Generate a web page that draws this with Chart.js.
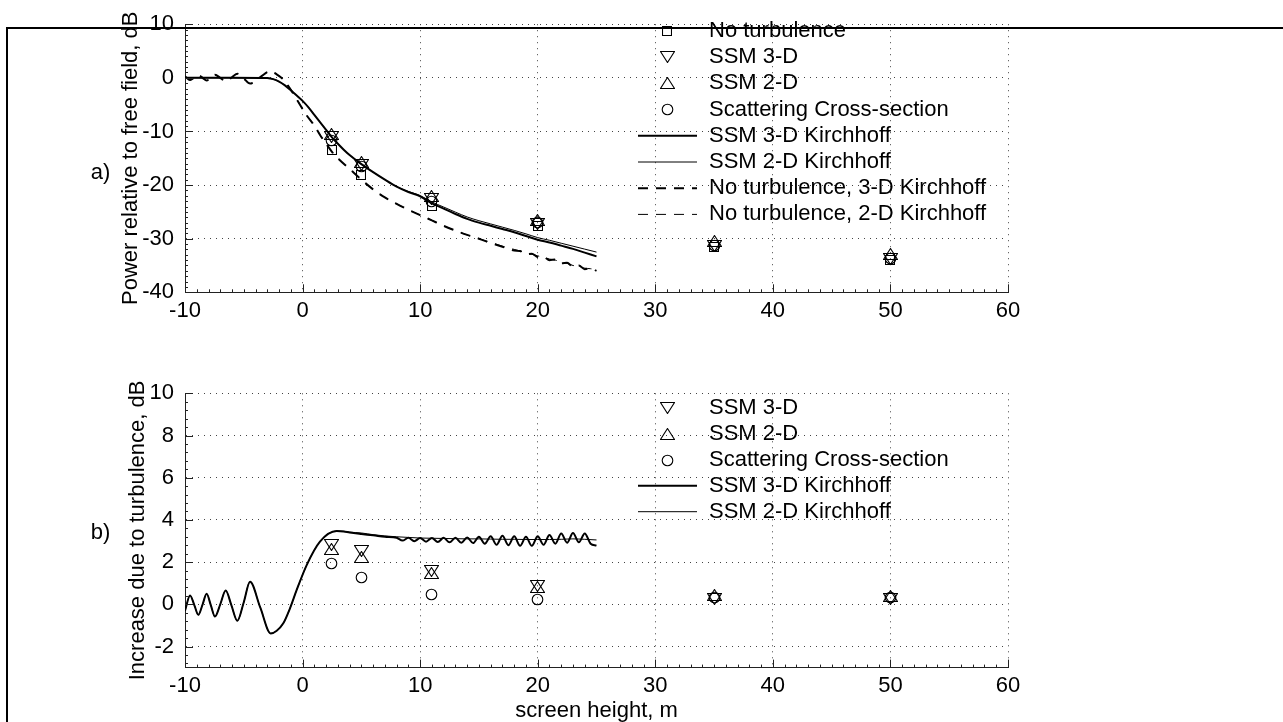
<!DOCTYPE html>
<html>
<head>
<meta charset="utf-8">
<script src="https://cdn.jsdelivr.net/npm/chart.js@4"></script>
<style>
  html, body { margin: 0; padding: 0; background: #fff; }
  #wrap { position: relative; width: 1283px; height: 722px; overflow: hidden; }
  #topChart { position: absolute; left: 0; top: 0; }
  #botChart { position: absolute; left: 0; top: 340px; }
  #frame { position: absolute; left: 6px; top: 27px; width: 1300px; height: 720px;
           border-left: 2px solid #000; border-top: 2px solid #000; pointer-events: none; }
</style>
</head>
<body>
<div id="wrap">
  <canvas id="topChart" width="1283" height="340" style="width:1283px;height:340px"></canvas>
  <canvas id="botChart" width="1283" height="382" style="width:1283px;height:382px"></canvas>
  <div id="frame"></div>
</div>
<script>
// axis ticks
var xTicks = [-10, 0, 10, 20, 30, 40, 50, 60];
var yTicksA = [-40, -30, -20, -10, 0, 10];
var yTicksB = [-2, 0, 2, 4, 6, 8, 10];

// screen heights of the simulated points, m
var markerX = [2.5, 5, 11, 20, 35, 50];

// a) power relative to free field, dB
var noTurb = [-13.5, -18.2, -23.9, -27.6, -31.5, -34.0];
var ssm3d = [-11.0, -16.3, -22.6, -27.3, -31.4, -33.8];
var ssm2d = [-10.4, -15.7, -22.0, -26.5, -30.5, -32.9];
var crossSec = [-11.6, -16.6, -23.1, -27.0, -31.3, -33.7];

// b) increase due to turbulence, dB
var ssm3dInc = [2.83, 2.52, 1.6, 0.89, 0.27, 0.23];
var ssm2dInc = [2.63, 2.25, 1.46, 0.83, 0.45, 0.39];
var crossSecInc = [1.94, 1.26, 0.47, 0.24, 0.33, 0.31];

// a) Kirchhoff curves with turbulence
var ssmKX = [-10, -6, -3.5, -3, -2.5, -2, -1.5, -1, -0.5, 0, 0.5, 1, 1.5, 2, 2.5, 3, 3.5, 4, 5, 6, 7, 8, 9, 10,
             11, 12, 13, 14, 15, 16, 17, 18, 19, 20, 21, 22, 23, 24, 25];
var ssm3dK = [0, 0, -0.02, -0.05, -0.25, -0.7, -1.4, -2.3, -3.3, -4.3, -5.5, -6.9, -8.3, -9.7, -11.1, -12.3, -13.4, -14.4,
              -16.1, -17.6, -19.0, -20.3, -21.3, -22.1, -23.4, -24.4, -25.4, -26.3, -27.0, -27.6, -28.2, -28.8, -29.5,
              -30.2, -30.7, -31.3, -31.9, -32.6, -33.3];
var ssm2dK = [0, 0, -0.02, -0.05, -0.25, -0.7, -1.4, -2.3, -3.3, -4.3, -5.5, -6.9, -8.3, -9.7, -11.1, -12.3, -13.4, -14.4,
              -16.1, -17.6, -19.0, -20.3, -21.2, -21.95, -23.15, -24.1, -25.05, -25.95, -26.65, -27.25, -27.85, -28.45,
              -29.1, -29.8, -30.3, -30.85, -31.4, -31.95, -32.5];

// a) Kirchhoff curves without turbulence
var noTurbKX = [-10, -9.57, -9.2, -8.87, -8.5, -8.16, -7.8, -7.45, -7, -6.54, -6.05, -5.55, -5, -4.47, -3.6, -2.71, -2.2,
                -1.64, -1.07, -0.5, 0.35, 1, 1.5, 2, 2.5, 3, 4, 5, 6, 7, 8, 9, 10, 11, 12, 13, 14, 15, 16, 17, 18, 18.5,
                19, 19.5, 20, 20.5, 21, 21.5, 22, 22.5, 23, 23.5, 24, 24.5, 25];
var noTurb3dK = [0.3, -0.42, 0.05, 0.5, 0, -0.5, 0.05, 0.58, 0, -0.65, 0.05, 0.78, -0.1, -1.07, 0.15, 1.25, 0.65,
                 -0.3, -2.0, -4.0, -7.0, -8.9, -10.7, -12.3, -13.8, -15.0, -17.0, -19.0, -20.8, -22.3, -23.5, -24.6,
                 -25.6, -26.6, -27.6, -28.5, -29.3, -30.0, -30.8, -31.5, -32.2, -32.3, -32.9, -32.8, -33.4, -33.4,
                 -34.0, -33.9, -34.6, -34.5, -35.2, -35.0, -35.7, -35.5, -36.0];
var noTurb2dK = [0.3, -0.42, 0.05, 0.5, 0, -0.5, 0.05, 0.58, 0, -0.65, 0.05, 0.78, -0.1, -1.07, 0.15, 1.25, 0.65,
                 -0.3, -2.0, -4.0, -7.0, -8.9, -10.7, -12.3, -13.8, -15.0, -17.0, -19.0, -20.8, -22.3, -23.5, -24.6,
                 -25.6, -26.6, -27.6, -28.5, -29.3, -30.0, -30.7, -31.4, -32.0, -32.3, -32.7, -32.9, -33.2, -33.5,
                 -33.8, -34.0, -34.4, -34.6, -35.0, -35.1, -35.5, -35.6, -35.8];

// b) Kirchhoff increase curves
var inc3dKX = [-10, -9.57, -9.2, -8.87, -8.5, -8.16, -7.8, -7.45, -7, -6.54, -6.05, -5.55, -5, -4.47, -3.6, -2.71, -2.2,
               -1.64, -1.07, -0.5, 0.35, 1.48, 2.9, 3.5, 4, 5, 6, 7, 8, 8.5, 9, 9.5, 10, 10.5, 11, 11.5, 12, 12.5, 13,
               13.5, 14, 14.5, 15, 15.5, 16, 16.5, 17, 17.5, 18, 18.5, 19, 19.5, 20, 20.5, 21, 21.5, 22, 22.5, 23,
               23.5, 24, 24.5, 25];
var inc3dK = [-0.3, 0.42, -0.05, -0.5, 0, 0.5, -0.05, -0.58, 0, 0.65, -0.05, -0.78, 0.1, 1.07, -0.15, -1.38, -1.25,
              -0.9, -0.19, 0.68, 1.86, 2.97, 3.47, 3.45, 3.4, 3.33, 3.27, 3.2, 3.15, 3.02, 3.15, 2.99, 3.14, 2.97, 3.14,
              2.95, 3.15, 2.94, 3.15, 2.92, 3.17, 2.9, 3.2, 2.87, 3.22, 2.82, 3.25, 2.8, 3.22, 2.77, 3.2, 2.77, 3.22,
              2.82, 3.28, 2.87, 3.35, 2.92, 3.38, 2.94, 3.36, 2.87, 2.78];
var inc2dKX = [-10, -9.57, -9.2, -8.87, -8.5, -8.16, -7.8, -7.45, -7, -6.54, -6.05, -5.55, -5, -4.47, -3.6, -2.71, -2.2,
               -1.64, -1.07, -0.5, 0.35, 1.48, 2.9, 3.5, 4, 5, 6, 7, 8, 9, 10, 11, 12, 13, 14, 15, 16, 17, 18, 19, 20,
               21, 22, 23, 24, 25];
var inc2dK = [-0.3, 0.42, -0.05, -0.5, 0, 0.5, -0.05, -0.58, 0, 0.65, -0.05, -0.78, 0.1, 1.07, -0.15, -1.38, -1.25,
              -0.9, -0.19, 0.68, 1.86, 2.97, 3.47, 3.46, 3.42, 3.38, 3.3, 3.24, 3.2, 3.17, 3.14, 3.13, 3.12, 3.11,
              3.1, 3.1, 3.09, 3.08, 3.08, 3.07, 3.07, 3.07, 3.08, 3.1, 3.08, 3.05];

var FONT = '"Liberation Sans", Arial, Helvetica, sans-serif';
Chart.defaults.font.family = FONT;
Chart.defaults.font.size = 22;
Chart.defaults.color = '#000';

// open MATLAB-style markers, centred on their bounding box
function markerSprite(kind) {
  var c = document.createElement('canvas');
  var g;
  if (kind === 'circle') {
    c.width = 13; c.height = 13; g = c.getContext('2d');
    g.beginPath(); g.arc(6.5, 6.5, 5.3, 0, Math.PI * 2);
  } else if (kind === 'square') {
    c.width = 10; c.height = 10; g = c.getContext('2d');
    g.beginPath(); g.rect(0.5, 0.5, 9, 9);
  } else {
    c.width = 15; c.height = 12; g = c.getContext('2d');
    g.beginPath();
    if (kind === 'down') { g.moveTo(0.5, 0.5); g.lineTo(14.5, 0.5); g.lineTo(7.5, 11.5); }
    else { g.moveTo(7.5, 0.5); g.lineTo(14.5, 11.5); g.lineTo(0.5, 11.5); }
    g.closePath();
  }
  g.strokeStyle = '#000'; g.lineWidth = 1.1; g.stroke();
  return c;
}
var sprites = { square: markerSprite('square'), down: markerSprite('down'),
                up: markerSprite('up'), circle: markerSprite('circle') };

function pts(xs, ys) {
  return xs.map(function (x, i) { return { x: x, y: ys[i] }; });
}
function markerSet(label, ys, sprite) {
  return { label: label, data: pts(markerX, ys), showLine: false, marker: sprite,
           pointRadius: 0, pointHoverRadius: 0 };
}
function curveSet(label, xs, ys, width, dash) {
  return { label: label, data: pts(xs, ys), showLine: true, borderColor: '#000', borderWidth: width,
           borderDash: dash, pointRadius: 0, cubicInterpolationMode: 'monotone', fill: false };
}

// markers snapped to whole pixels at the positions the scales give
var crispMarkers = {
  id: 'crispMarkers',
  afterDatasetsDraw: function (chart) {
    var ctx = chart.ctx;
    chart.data.datasets.forEach(function (ds, i) {
      if (!ds.marker) return;
      chart.getDatasetMeta(i).data.forEach(function (el) {
        ctx.drawImage(ds.marker, Math.round(el.x - ds.marker.width / 2), Math.round(el.y - ds.marker.height / 2));
      });
    });
  }
};

// legend without a box, drawn over the grid like the original
var boxlessLegend = {
  id: 'boxlessLegend',
  afterDatasetsDraw: function (chart, args, o) {
    var ctx = chart.ctx;
    chart.data.datasets.forEach(function (ds, i) {
      var y = o.top + i * o.step;
      ctx.save();
      if (ds.showLine) {
        ctx.strokeStyle = '#000';
        ctx.lineWidth = ds.borderWidth;
        ctx.setLineDash(ds.borderDash || []);
        ctx.beginPath(); ctx.moveTo(o.lineFrom, y); ctx.lineTo(o.lineTo, y); ctx.stroke();
      } else {
        var img = ds.marker;
        ctx.drawImage(img, Math.round(o.marker - img.width / 2), Math.round(y - img.height / 2));
      }
      ctx.fillStyle = '#000';
      ctx.font = '22px ' + FONT;
      ctx.textBaseline = 'middle';
      ctx.textAlign = 'left';
      ctx.fillText(ds.label, o.text, y);
      ctx.restore();
    });
  }
};

// inward major and minor tick marks
var inwardTicks = {
  id: 'inwardTicks',
  afterDraw: function (chart, args, o) {
    var ctx = chart.ctx, xs = chart.scales.x, ys = chart.scales.y, a = chart.chartArea;
    ctx.save();
    ctx.strokeStyle = '#222';
    ctx.lineWidth = 1;
    ctx.beginPath();
    var k, v, p, len;
    for (k = Math.ceil(xs.min / o.xMinor - 1e-9); k * o.xMinor <= xs.max + 1e-9; k++) {
      v = k * o.xMinor;
      p = Math.round(xs.getPixelForValue(v)) + 0.5;
      len = Math.abs(v / o.xMajor - Math.round(v / o.xMajor)) < 1e-6 ? 8 : 3;
      ctx.moveTo(p, a.bottom); ctx.lineTo(p, a.bottom - len);
    }
    for (k = Math.ceil(ys.min / o.yMinor - 1e-9); k * o.yMinor <= ys.max + 1e-9; k++) {
      v = k * o.yMinor;
      p = Math.round(ys.getPixelForValue(v)) + 0.5;
      len = Math.abs(v / o.yMajor - Math.round(v / o.yMajor)) < 1e-6 ? 8 : 3;
      ctx.moveTo(a.left, p); ctx.lineTo(a.left + len, p);
    }
    ctx.stroke();
    ctx.restore();
  }
};

// a) / b) panel tag
var panelTag = {
  id: 'panelTag',
  afterDraw: function (chart, args, o) {
    var ctx = chart.ctx;
    ctx.save();
    ctx.fillStyle = '#000';
    ctx.font = '22px ' + FONT;
    ctx.textAlign = 'center';
    ctx.textBaseline = 'middle';
    ctx.fillText(o.text, o.x, o.y);
    ctx.restore();
  }
};

function makeOptions(cfg) {
  var grid = { color: '#444', lineWidth: 1, drawTicks: false };
  var border = { color: '#222', width: 1, dash: [1, 5] };
  return {
    responsive: false,
    animation: false,
    events: [],
    layout: { padding: { left: 0, right: 275, top: cfg.top, bottom: 0 } },
    scales: {
      x: {
        type: 'linear', min: -10, max: 60,
        afterBuildTicks: function (s) { s.ticks = xTicks.map(function (v) { return { value: v }; }); },
        afterFit: function (s) { s.height = cfg.xHeight; },
        grid: grid, border: border,
        ticks: { padding: 5, autoSkip: false, maxRotation: 0, color: '#000' },
        title: cfg.xTitle ? { display: true, text: cfg.xTitle, color: '#000',
                              font: { size: 22, lineHeight: 1 }, padding: { top: 0, bottom: 0 } }
                          : { display: false }
      },
      y: {
        type: 'linear', min: cfg.yMin, max: cfg.yMax,
        afterBuildTicks: function (s) { s.ticks = cfg.yTicks.map(function (v) { return { value: v }; }); },
        afterFit: function (s) { s.width = 185; },
        grid: grid, border: border,
        ticks: { padding: 11, autoSkip: false, color: '#000' },
        title: { display: true, text: cfg.yTitle, color: '#000',
                 font: { size: 22, lineHeight: 1 }, padding: { top: cfg.yTitlePad, bottom: 0 } }
      }
    },
    plugins: {
      legend: { display: false },
      tooltip: { enabled: false },
      boxlessLegend: { top: cfg.legendTop, step: cfg.legendStep, marker: 667, lineFrom: 638, lineTo: 697, text: 709 },
      inwardTicks: { xMinor: 1, xMajor: 10, yMinor: cfg.yMinor, yMajor: cfg.yMajor },
      panelTag: cfg.tag
    }
  };
}

new Chart(document.getElementById('topChart'), {
  type: 'line',
  data: {
    datasets: [
      markerSet('No turbulence', noTurb, sprites.square),
      markerSet('SSM 3-D', ssm3d, sprites.down),
      markerSet('SSM 2-D', ssm2d, sprites.up),
      markerSet('Scattering Cross-section', crossSec, sprites.circle),
      curveSet('SSM 3-D Kirchhoff', ssmKX, ssm3dK, 2, []),
      curveSet('SSM 2-D Kirchhoff', ssmKX, ssm2dK, 1, []),
      curveSet('No turbulence, 3-D Kirchhoff', noTurbKX, noTurb3dK, 2, [10, 8]),
      curveSet('No turbulence, 2-D Kirchhoff', noTurbKX, noTurb2dK, 1, [10, 8])
    ]
  },
  options: makeOptions({
    top: 17.5, xHeight: 47.7, yMin: -40, yMax: 10, yTicks: yTicksA, yMinor: 1, yMajor: 10,
    yTitle: 'Power relative to free field, dB', yTitlePad: 120,
    legendTop: 31, legendStep: 26.2, tag: { text: 'a)', x: 100.5, y: 172.5 }
  }),
  plugins: [crispMarkers, boxlessLegend, inwardTicks, panelTag]
});

new Chart(document.getElementById('botChart'), {
  type: 'line',
  data: {
    datasets: [
      markerSet('SSM 3-D', ssm3dInc, sprites.down),
      markerSet('SSM 2-D', ssm2dInc, sprites.up),
      markerSet('Scattering Cross-section', crossSecInc, sprites.circle),
      curveSet('SSM 3-D Kirchhoff', inc3dKX, inc3dK, 2, []),
      curveSet('SSM 2-D Kirchhoff', inc2dKX, inc2dK, 1, [])
    ]
  },
  options: makeOptions({
    top: 53.3, xHeight: 54.4, yMin: -3, yMax: 10, yTicks: yTicksB, yMinor: 0.4, yMajor: 2,
    yTitle: 'Increase due to turbulence, dB', yTitlePad: 127, xTitle: 'screen height, m',
    legendTop: 68.3, legendStep: 25.85, tag: { text: 'b)', x: 100.5, y: 193 }
  }),
  plugins: [crispMarkers, boxlessLegend, inwardTicks, panelTag]
});
</script>
</body>
</html>
